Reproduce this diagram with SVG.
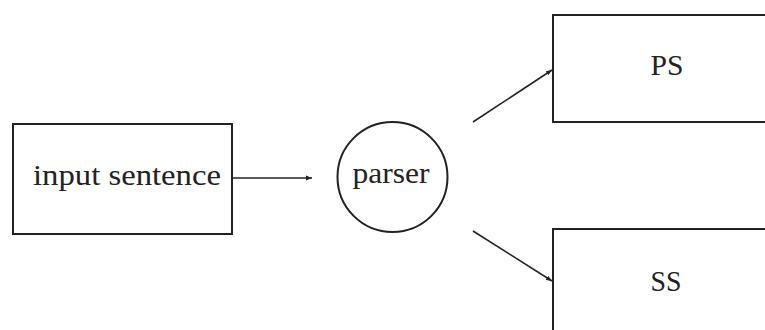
<svg xmlns="http://www.w3.org/2000/svg" width="765" height="330" viewBox="0 0 765 330">
<style>
.box{fill:none;stroke:#222;stroke-width:2}
.lbl{font-family:"Liberation Serif","DejaVu Serif",serif;font-size:29px;fill:#222}
.edge{stroke:#222;stroke-width:1.6;fill:none;marker-end:url(#ah)}
</style>
<defs>
<marker id="ah" viewBox="0 0 10 10" refX="10" refY="5" markerWidth="6" markerHeight="6" markerUnits="userSpaceOnUse" orient="auto">
<path d="M0,1 L10,5 L0,9 Z" fill="#222"/>
</marker>
</defs>
<rect width="765" height="330" fill="#fff"/>
<g id="input">
<rect class="box" x="13" y="124" width="219" height="110"/>
<text class="lbl" x="127" y="185" text-anchor="middle" textLength="188" lengthAdjust="spacingAndGlyphs">input sentence</text>
</g>
<g id="parser">
<circle class="box" cx="392.5" cy="177" r="55"/>
<text class="lbl" x="391" y="183" text-anchor="middle" textLength="77" lengthAdjust="spacingAndGlyphs">parser</text>
</g>
<g id="ps">
<rect class="box" x="553" y="15" width="230" height="107"/>
<text class="lbl" x="667" y="75" text-anchor="middle" textLength="33" lengthAdjust="spacingAndGlyphs">PS</text>
</g>
<g id="ss">
<rect class="box" x="553" y="229" width="230" height="120"/>
<text class="lbl" x="666" y="291" text-anchor="middle" textLength="31" lengthAdjust="spacingAndGlyphs">SS</text>
</g>
<g id="connectors">
<line class="edge" x1="232" y1="178" x2="312" y2="178"/>
<line class="edge" x1="473" y1="122" x2="552" y2="70"/>
<line class="edge" x1="473" y1="231" x2="552" y2="281"/>
</g>
</svg>
